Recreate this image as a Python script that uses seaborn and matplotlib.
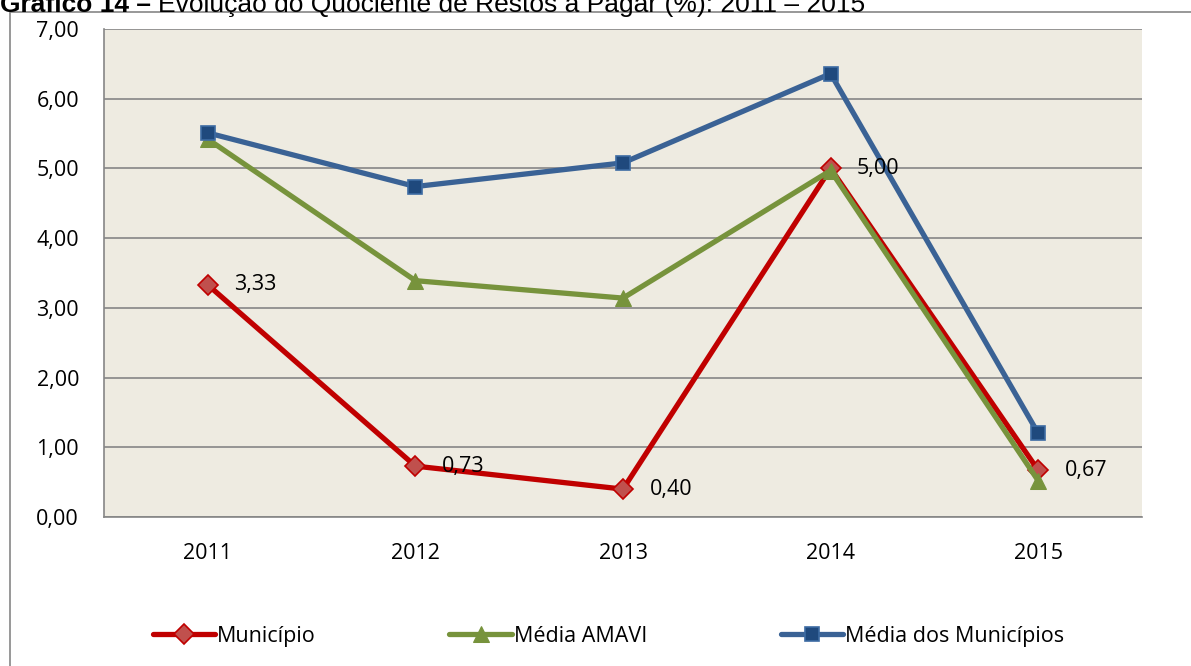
import pandas as pd
import seaborn as sns
import matplotlib.pyplot as plt
from matplotlib.patches import Rectangle
from matplotlib.ticker import FuncFormatter

# === Data ===
anos = ["2011", "2012", "2013", "2014", "2015"]
municipio = [3.33, 0.73, 0.40, 5.00, 0.67]
media_amavi = [5.42, 3.39, 3.14, 4.97, 0.52]
media_municipios = [5.51, 4.74, 5.08, 6.36, 1.20]

series_names = ["Município", "Média AMAVI", "Média dos Municípios"]

df = pd.DataFrame({
    "ano": anos * 3,
    "valor": municipio + media_amavi + media_municipios,
    "serie": [series_names[0]] * 5 + [series_names[1]] * 5 + [series_names[2]] * 5,
})

sns.set_style("white")
plt.rcParams["font.family"] = ["Open Sans", "DejaVu Sans"]
plt.rcParams["text.color"] = "black"
plt.rcParams["xtick.color"] = "black"
plt.rcParams["ytick.color"] = "black"

fig = plt.figure(figsize=(11.91, 6.66), dpi=100)
ax = fig.add_axes([104 / 1191, 1 - 517 / 666, 1038 / 1191, 488 / 666])
ax.set_facecolor("#EEEBE1")

# === Lines ===
styles = {
    "Município": dict(color="#C00000", marker="D", markersize=10,
                      markerfacecolor="#C0504D", markeredgecolor="#C00000", markeredgewidth=1.2),
    "Média AMAVI": dict(color="#77933C", marker="^", markersize=12,
                        markerfacecolor="#77933C", markeredgecolor="#77933C"),
    "Média dos Municípios": dict(color="#3A6295", marker="s", markersize=10,
                                 markerfacecolor="#1F497D", markeredgecolor="#3D6BA3", markeredgewidth=1.2),
}
for i, name in enumerate(series_names):
    sub = df[df["serie"] == name]
    sns.lineplot(data=sub, x="ano", y="valor", ax=ax, label=name,
                 linewidth=3.8, zorder=3 + i, **styles[name])

# === Data labels for Município ===
for x, v in zip(anos, municipio):
    ax.annotate(f"{v:.2f}".replace(".", ","), (anos.index(x), v),
                xytext=(19, 0), textcoords="offset points",
                ha="left", va="center", fontsize=15.5, zorder=10)

# === Axes styling ===
ax.set_xlim(-0.5, 4.5)
ax.set_ylim(0, 7)
ax.set_yticks(range(0, 8))
ax.yaxis.set_major_formatter(FuncFormatter(lambda v, p: f"{v:.2f}".replace(".", ",")))
ax.grid(axis="y", color="#868686", linewidth=1.2, zorder=1)
ax.set_axisbelow(True)
ax.set_xlabel("")
ax.set_ylabel("")
for side in ["top", "right"]:
    ax.spines[side].set_visible(False)
for side in ["left", "bottom"]:
    ax.spines[side].set_color("#868686")
    ax.spines[side].set_linewidth(1.2)
ax.tick_params(axis="y", length=6, color="#868686", width=1.2, labelsize=15.5, pad=12)
ax.tick_params(axis="x", length=0, labelsize=15.5, pad=19)

# === Legend ===
ax.legend(loc="center", bbox_to_anchor=(0.511, 0.045), bbox_transform=fig.transFigure,
          ncol=3, frameon=False, fontsize=15.5, handlelength=2.9, handletextpad=0.1,
          columnspacing=6.2)

# === Chart border and clipped title ===
fig.patches.append(Rectangle((10 / 1191, -0.1), 1.2, 1.1 - 12 / 666, transform=fig.transFigure,
                             fill=False, edgecolor="#868686", linewidth=1.2))
t1 = fig.text(0.0, 1 - 12 / 666, "Gráfico 14 – ", fontsize=19, fontweight="bold",
              family=["Liberation Sans"], va="baseline", ha="left")
fig.canvas.draw()
bb = t1.get_window_extent()
fig.text(bb.x1 / fig.bbox.width, 1 - 12 / 666,
         "Evolução do Quociente de Restos a Pagar (%): 2011 – 2015",
         fontsize=19, family=["Liberation Sans"], va="baseline", ha="left")

fig.savefig("out.png", dpi=100)
